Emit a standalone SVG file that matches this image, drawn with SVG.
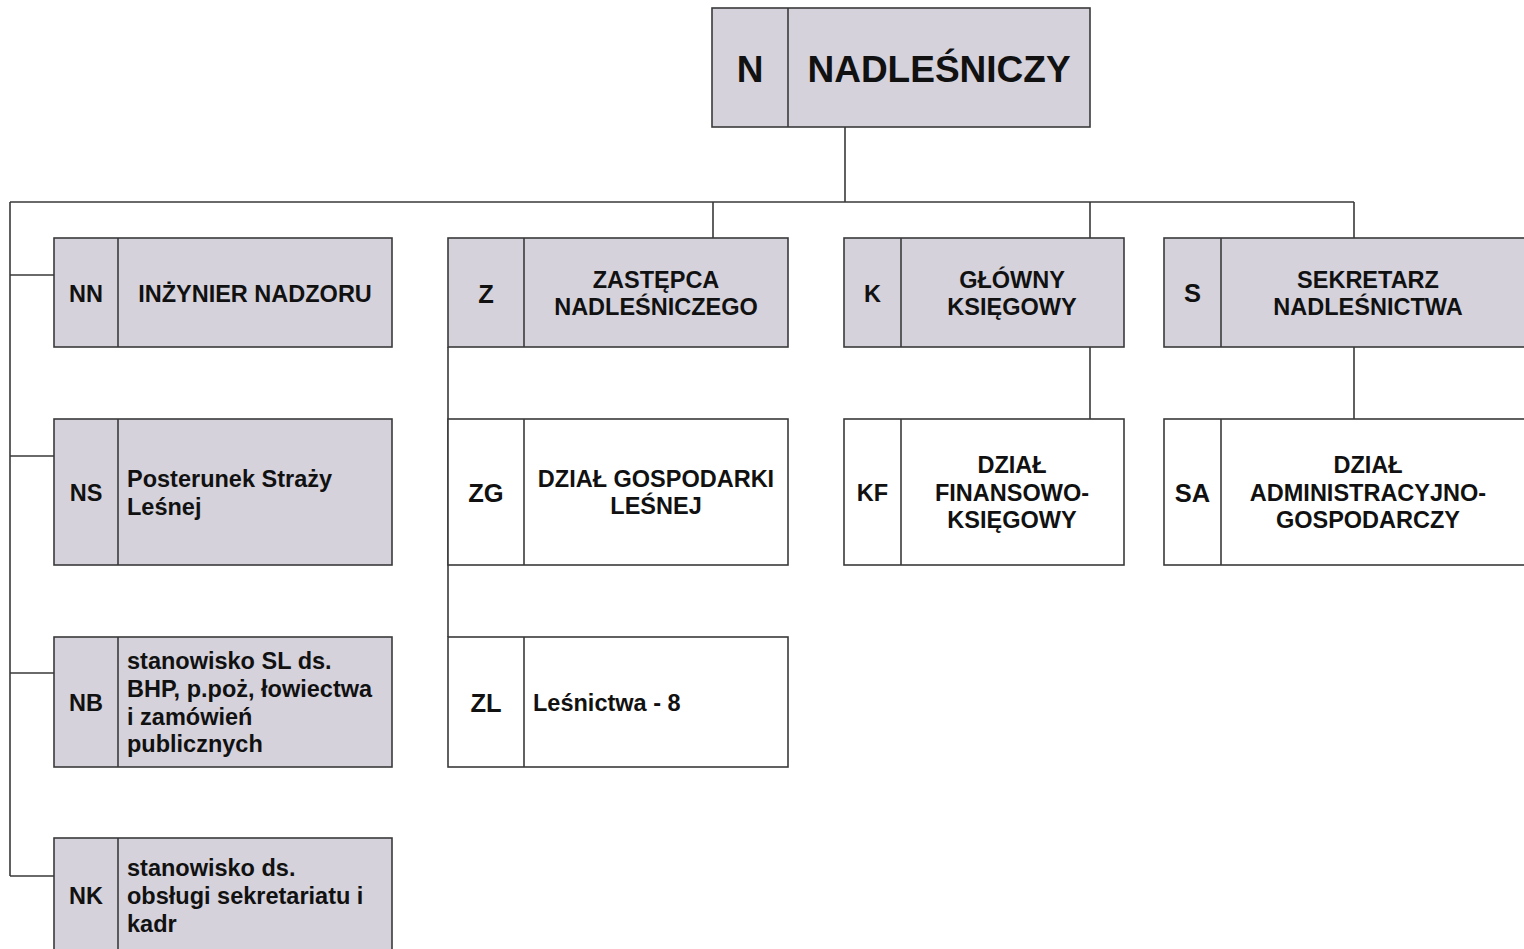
<svg xmlns="http://www.w3.org/2000/svg" width="1524" height="949" viewBox="0 0 1524 949">
<style>
.box{stroke:#3a3a3a;stroke-width:1.6}
.g{fill:#d5d2dc}
.w{fill:#ffffff}
.div{stroke:#3a3a3a;stroke-width:1.6}
.con{stroke:#3a3a3a;stroke-width:1.6;fill:none}
text{font-family:"Liberation Sans",Arial,sans-serif;font-weight:bold;fill:#111}
.c{text-anchor:middle}
.t{font-size:23.5px}
.code{font-size:23.5px}
.code2{font-size:25.5px}
</style>
<rect width="1524" height="949" fill="#ffffff"/>
<g id="connectors">
<path class="con" d="M845 127V202M10 202H1354M10 202V876M10 275H54M10 456H54M10 673H54M10 876H54M713 202V238M1090 202V238M1354 202V238M448 347V637M1090 347V419M1354 347V419"/>
</g>
<g id="N">
<rect class="box g" x="712" y="8" width="378" height="119"/>
<line class="div" x1="788" y1="8" x2="788" y2="127"/>
<text x="750" y="82" class="c" style="font-size:37px">N</text>
<text x="939" y="82" class="c" style="font-size:37px">NADLEŚNICZY</text>
</g>
<g id="NN">
<rect class="box g" x="54" y="238" width="338" height="109"/>
<line class="div" x1="118" y1="238" x2="118" y2="347"/>
<text x="86" y="302" class="c code">NN</text>
<text x="255" y="302" class="c t">INŻYNIER NADZORU</text>
</g>
<g id="NS">
<rect class="box g" x="54" y="419" width="338" height="146"/>
<line class="div" x1="118" y1="419" x2="118" y2="565"/>
<text x="86" y="501" class="c code">NS</text>
<text x="127" y="487" class="t">Posterunek Straży</text>
<text x="127" y="515" class="t">Leśnej</text>
</g>
<g id="NB">
<rect class="box g" x="54" y="637" width="338" height="130"/>
<line class="div" x1="118" y1="637" x2="118" y2="767"/>
<text x="86" y="711" class="c code">NB</text>
<text x="127" y="669" class="t">stanowisko SL ds.</text>
<text x="127" y="697" class="t">BHP, p.poż, łowiectwa</text>
<text x="127" y="725" class="t">i zamówień</text>
<text x="127" y="752" class="t">publicznych</text>
</g>
<g id="NK">
<rect class="box g" x="54" y="838" width="338" height="130"/>
<line class="div" x1="118" y1="838" x2="118" y2="968"/>
<text x="86" y="904" class="c code">NK</text>
<text x="127" y="876" class="t">stanowisko ds.</text>
<text x="127" y="904" class="t">obsługi sekretariatu i</text>
<text x="127" y="932" class="t">kadr</text>
</g>
<g id="Z">
<rect class="box g" x="448" y="238" width="340" height="109"/>
<line class="div" x1="524" y1="238" x2="524" y2="347"/>
<text x="486" y="303" class="c code2">Z</text>
<text x="656" y="288" class="c t">ZASTĘPCA</text>
<text x="656" y="315" class="c t">NADLEŚNICZEGO</text>
</g>
<g id="ZG">
<rect class="box w" x="448" y="419" width="340" height="146"/>
<line class="div" x1="524" y1="419" x2="524" y2="565"/>
<text x="486" y="502" class="c code2">ZG</text>
<text x="656" y="487" class="c t">DZIAŁ GOSPODARKI</text>
<text x="656" y="514" class="c t">LEŚNEJ</text>
</g>
<g id="ZL">
<rect class="box w" x="448" y="637" width="340" height="130"/>
<line class="div" x1="524" y1="637" x2="524" y2="767"/>
<text x="486" y="712" class="c code2">ZL</text>
<text x="533" y="711" class="t">Leśnictwa - 8</text>
</g>
<g id="K">
<rect class="box g" x="844" y="238" width="280" height="109"/>
<line class="div" x1="901" y1="238" x2="901" y2="347"/>
<text x="872.5" y="302" class="c code">K</text>
<text x="1012" y="288" class="c t">GŁÓWNY</text>
<text x="1012" y="315" class="c t">KSIĘGOWY</text>
</g>
<g id="KF">
<rect class="box w" x="844" y="419" width="280" height="146"/>
<line class="div" x1="901" y1="419" x2="901" y2="565"/>
<text x="872.5" y="501" class="c code">KF</text>
<text x="1012" y="473" class="c t">DZIAŁ</text>
<text x="1012" y="501" class="c t">FINANSOWO-</text>
<text x="1012" y="528" class="c t">KSIĘGOWY</text>
</g>
<g id="S">
<rect class="box g" x="1164" y="238" width="370" height="109"/>
<line class="div" x1="1221" y1="238" x2="1221" y2="347"/>
<text x="1192.5" y="302" class="c code2">S</text>
<text x="1368" y="288" class="c t">SEKRETARZ</text>
<text x="1368" y="315" class="c t">NADLEŚNICTWA</text>
</g>
<g id="SA">
<rect class="box w" x="1164" y="419" width="370" height="146"/>
<line class="div" x1="1221" y1="419" x2="1221" y2="565"/>
<text x="1192.5" y="502" class="c code2">SA</text>
<text x="1368" y="473" class="c t">DZIAŁ</text>
<text x="1368" y="501" class="c t">ADMINISTRACYJNO-</text>
<text x="1368" y="528" class="c t">GOSPODARCZY</text>
</g>
</svg>
